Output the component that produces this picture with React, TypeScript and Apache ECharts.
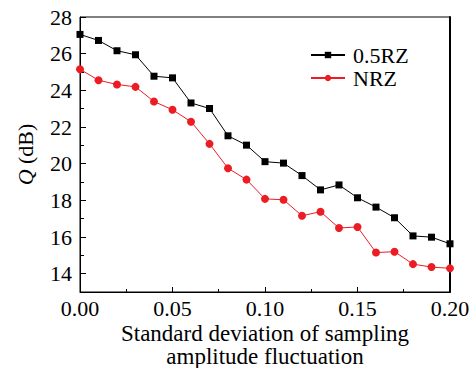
import React, { useEffect, useRef } from "react";
import * as echarts from "echarts";

const xValues = [0, 0.01, 0.02, 0.03, 0.04, 0.05, 0.06, 0.07, 0.08, 0.09, 0.1, 0.11, 0.12, 0.13, 0.14, 0.15, 0.16, 0.17, 0.18, 0.19, 0.2];
const rz05 = [27.05, 26.72, 26.16, 25.94, 24.77, 24.68, 23.31, 23.01, 21.52, 21.01, 20.11, 20.03, 19.35, 18.57, 18.84, 18.14, 17.63, 17.05, 16.06, 15.99, 15.63];
const nrz = [25.15, 24.55, 24.32, 24.19, 23.39, 22.94, 22.29, 21.08, 19.75, 19.13, 18.08, 18.03, 17.16, 17.38, 16.49, 16.55, 15.15, 15.2, 14.52, 14.36, 14.29];
const yMajorTicks = [14, 16, 18, 20, 22, 24, 26, 28];
const yMinorTicks = [13, 15, 17, 19, 21, 23, 25, 27];
const xMajorTicks = [0, 0.05, 0.1, 0.15, 0.2];
const xMinorTicks = [0.025, 0.075, 0.125, 0.175];
const seriesNames = ["0.5RZ", "NRZ"];

const FONT = "Liberation Serif";
const FS = 22;

export default function App() {
  const ref = useRef<HTMLDivElement>(null);
  useEffect(() => {
    const chart = echarts.init(ref.current!, null, { renderer: "svg" });
    const axisText = { fontFamily: FONT, fontSize: FS, color: "#000" };
    chart.setOption({
      animation: false,
      backgroundColor: "#fff",
      grid: {
        left: 80, right: 22, top: 17, bottom: 76,
        outerBoundsMode: "none",
        containLabel: false,
        show: true, borderColor: "#000", borderWidth: 1, backgroundColor: "transparent",
      },
      legend: {
        orient: "vertical",
        left: 310,
        top: 44,
        padding: 0,
        itemWidth: 34,
        itemHeight: 8,
        itemGap: 1,
        textStyle: { fontFamily: FONT, fontSize: FS, color: "#000", lineHeight: 22, padding: [0, 0, 0, 3] },
        data: seriesNames,
      },
      xAxis: [
        {
          type: "value",
          min: 0,
          max: 0.2,
          interval: 0.05,
          axisLine: { lineStyle: { color: "#000", width: 1 } },
          axisTick: { inside: true, length: 5, lineStyle: { color: "#000" }, customValues: xMajorTicks },
          axisLabel: { ...axisText, margin: 5, lineHeight: 22, formatter: (v: number) => v.toFixed(2), customValues: xMajorTicks },
          splitLine: { show: false },
          name: "Standard deviation of sampling\namplitude fluctuation",
          nameLocation: "middle",
          nameGap: 30,
          nameMoveOverlap: false,
          nameTextStyle: { fontFamily: FONT, fontSize: 23, color: "#000", lineHeight: 23, verticalAlign: "top" },
        },
        {
          type: "value",
          min: 0,
          max: 0.2,
          position: "bottom",
          axisLine: { show: false },
          axisTick: { inside: true, length: 3, lineStyle: { color: "#000" }, customValues: xMinorTicks },
          axisLabel: { show: false },
          splitLine: { show: false },
        },
      ],
      yAxis: [
        {
          type: "value",
          min: 13,
          max: 28,
          axisLine: { show: true, lineStyle: { color: "#000", width: 1 } },
          axisTick: { show: true, inside: true, length: 6, lineStyle: { color: "#000" }, customValues: yMajorTicks },
          axisLabel: { ...axisText, margin: 8, customValues: yMajorTicks },
          splitLine: { show: false },
          name: "{i|Q} (dB)",
          nameLocation: "middle",
          nameGap: 44,
          nameRotate: 90,
          nameMoveOverlap: false,
          nameTextStyle: { ...axisText, padding: [0, 0, 0, 0], rich: { i: { fontFamily: FONT, fontSize: FS, fontStyle: "italic", color: "#000" } } },
        },
        {
          type: "value",
          min: 13,
          max: 28,
          position: "left",
          axisLine: { show: false },
          axisTick: { show: true, inside: true, length: 4, lineStyle: { color: "#000" }, customValues: yMinorTicks },
          axisLabel: { show: false },
          splitLine: { show: false },
        },
        {
          type: "value",
          min: 13,
          max: 28,
          position: "right",
          axisLine: { show: true, lineStyle: { color: "#000", width: 2 } },
          axisTick: { show: false },
          axisLabel: { show: false },
          splitLine: { show: false },
        },
      ],
      series: [
        {
          name: seriesNames[0],
          type: "line",
          data: xValues.map((x, i) => [x, rz05[i]]),
          symbol: "rect",
          symbolSize: 7,
          itemStyle: { color: "#000" },
          lineStyle: { color: "#000", width: 1 },
        },
        {
          name: seriesNames[1],
          type: "line",
          data: xValues.map((x, i) => [x, nrz[i]]),
          symbol: "circle",
          symbolSize: 8,
          itemStyle: { color: "#ec1c24" },
          lineStyle: { color: "#ec1c24", width: 1 },
        },
      ],
    });
    return () => chart.dispose();
  }, []);
  return <div ref={ref} style={{ width: 472, height: 368, position: "absolute", left: 0, top: 0 }} />;
}
